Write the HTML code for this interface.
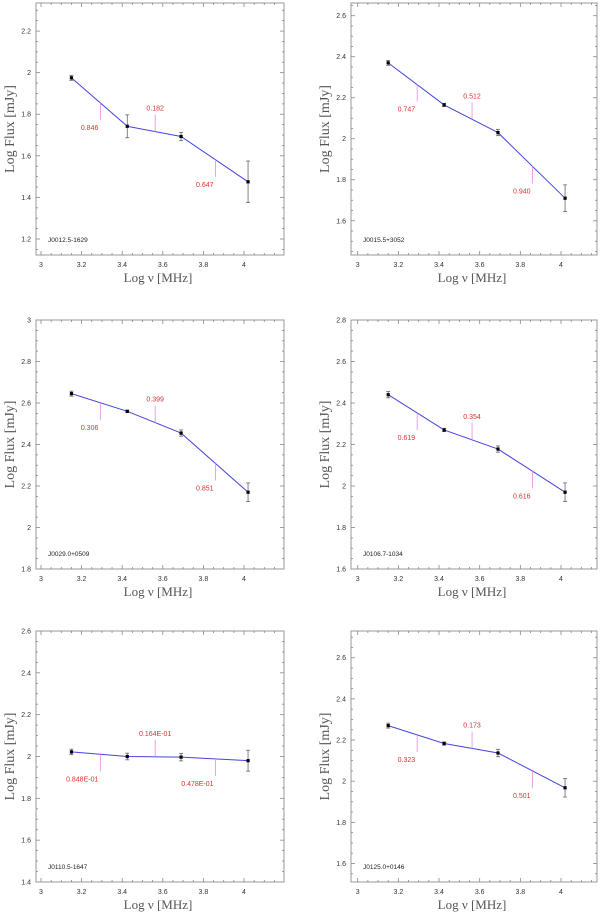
<!DOCTYPE html>
<html><head><meta charset="utf-8"><style>
body{margin:0;background:#fff;}
svg{display:block;}
text{font-family:"Liberation Sans",sans-serif;}
</style></head><body>
<svg id="chart" width="600" height="913" viewBox="0 0 600 913" xmlns="http://www.w3.org/2000/svg"></svg>
<script>
const sourceNames = ["J0012.5-1629","J0015.5+3052","J0029.0+0509","J0106.7-1034","J0110.5-1647","J0125.0+0146"];
const freqs = [3.15, 3.425, 3.69, 4.02];
const flux1 = [1.975, 1.742, 1.693, 1.475];
const flux2 = [2.37, 2.165, 2.03, 1.71];
const flux3 = [2.645, 2.56, 2.455, 2.17];
const flux4 = [2.44, 2.27, 2.178, 1.97];
const flux5 = [2.022, 2.0, 1.997, 1.98];
const flux6 = [2.27, 2.183, 2.137, 1.968];
const err1 = [0.012, 0.055, 0.02, 0.1];
const err2 = [0.012, 0.008, 0.015, 0.065];
const err3 = [0.012, 0.005, 0.015, 0.045];
const err4 = [0.015, 0.008, 0.015, 0.045];
const err5 = [0.013, 0.016, 0.018, 0.05];
const err6 = [0.012, 0.008, 0.018, 0.045];
const alpha1 = ["0.846","0.182","0.647"];
const alpha2 = ["0.747","0.512","0.940"];
const alpha3 = ["0.306","0.399","0.851"];
const alpha4 = ["0.619","0.354","0.616"];
const alpha5 = ["0.848E-01","0.164E-01","0.478E-01"];
const alpha6 = ["0.323","0.173","0.501"];
const yTop = [2.335, 2.662, 3.0, 2.8, 2.6, 2.73];
const yBottom = [1.123, 1.433, 1.8, 1.6, 1.4, 1.51];
const yTickLabels1 = ["1.2","1.4","1.6","1.8","2","2.2"];
const yTickLabels2 = ["1.6","1.8","2","2.2","2.4","2.6"];
const yTickLabels3 = ["1.8","2","2.2","2.4","2.6","2.8","3"];
const yTickLabels4 = ["1.6","1.8","2","2.2","2.4","2.6","2.8"];
const yTickLabels5 = ["1.4","1.6","1.8","2","2.2","2.4","2.6"];
const yTickLabels6 = ["1.6","1.8","2","2.2","2.4","2.6"];
const xTickLabels = ["3","3.2","3.4","3.6","3.8","4"];

const fluxes=[flux1,flux2,flux3,flux4,flux5,flux6];
const errs=[err1,err2,err3,err4,err5,err6];
const alphas=[alpha1,alpha2,alpha3,alpha4,alpha5,alpha6];
const yLabs=[yTickLabels1,yTickLabels2,yTickLabels3,yTickLabels4,yTickLabels5,yTickLabels6];
const NS="http://www.w3.org/2000/svg";
const svg=document.getElementById('chart');
function mk(tag,attrs,parent,txt){const e=document.createElementNS(NS,tag);for(const k in attrs)e.setAttribute(k,attrs[k]);if(txt!==undefined)e.textContent=txt;parent.appendChild(e);return e;}
const colX=[[36,284,41,244],[351,597,357.7,561]];
const rowY=[[3,255],[320,569],[631,882]];
for(let p=0;p<6;p++){
  const c=p%2,r=Math.floor(p/2);
  const [bl,br,x3,x4]=colX[c];const [bt,bb]=rowY[r];
  const X=v=>x3+(v-3)*(x4-x3);
  const Y=v=>bb-(v-yBottom[p])/(yTop[p]-yBottom[p])*(bb-bt);
  const g=mk('g',{},svg);
  
  
  const box=mk('rect',{x:bl,y:bt,width:br-bl,height:bb-bt,fill:'none',stroke:'#999','stroke-width':1},g);
  
  
  for(let i=0;i<=24;i++){const v=2.95+i*0.05;const px=X(v);if(px<=bl+0.5||px>=br-0.5)continue;
    const major=Math.abs(v*5-Math.round(v*5))<1e-6;const L=major?4:2;
    mk('line',{x1:px,y1:bb,x2:px,y2:bb-L,stroke:'#888','stroke-width':0.8},g);
    mk('line',{x1:px,y1:bt,x2:px,y2:bt+L,stroke:'#888','stroke-width':0.8},g);}
  xTickLabels.forEach(t=>{const e=mk('text',{x:X(+t),y:bb+12,'font-size':7,'text-anchor':'middle',fill:'#333'},g,t);
    
    });
  for(let i=0;i<=60;i++){const v=1.0+i*0.05;const py=Y(v);if(py<=bt+0.5||py>=bb-0.5)continue;
    const major=Math.abs(v*5-Math.round(v*5))<1e-6;const L=major?4:2;
    mk('line',{x1:bl,y1:py,x2:bl+L,y2:py,stroke:'#888','stroke-width':0.8},g);
    mk('line',{x1:br,y1:py,x2:br-L,y2:py,stroke:'#888','stroke-width':0.8},g);}
  yLabs[p].forEach(t=>{const e=mk('text',{x:bl-5,y:Y(+t)+2.5,'font-size':7,'text-anchor':'end',fill:'#333'},g,t);
    
    });
  const xt=mk('text',{x:(bl+br)/2-2,y:bb+27,'text-anchor':'middle',fill:'#555',style:'font-family:"Liberation Serif",serif;font-size:13px'},g,'Log \u03BD [MHz]');
  
  
  const ycx=bl-26,ycy=(bt+bb)/2;
  const yt=mk('text',{x:ycx,y:ycy+4,'text-anchor':'middle',fill:'#555',style:'font-family:"Liberation Serif",serif;font-size:14px',transform:`rotate(-90 ${ycx} ${ycy})`},g,'Log Flux [mJy]');
  
  
  const nm=mk('text',{x:bl+12,y:bb-13,'font-size':6.5,fill:'#222'},g,sourceNames[p]);
  
  
  const f=fluxes[p];
  const pl=mk('polyline',{points:freqs.map((x,i)=>X(x)+','+Y(f[i])).join(' '),fill:'none',stroke:'#4444dd','stroke-width':1},g);
  
  
  freqs.forEach((x,i)=>{const px=X(x),e=errs[p][i];
    mk('line',{x1:px,y1:Y(f[i]-e),x2:px,y2:Y(f[i]+e),stroke:'#666','stroke-width':0.8},g);
    mk('line',{x1:px-2,y1:Y(f[i]-e),x2:px+2,y2:Y(f[i]-e),stroke:'#666','stroke-width':0.8},g);
    mk('line',{x1:px-2,y1:Y(f[i]+e),x2:px+2,y2:Y(f[i]+e),stroke:'#666','stroke-width':0.8},g);
    const pt=mk('rect',{x:px-1.6,y:Y(f[i])-1.6,width:3.2,height:3.2,fill:'#000'},g);
    
    });
  for(let s=0;s<3;s++){
    const xm=(freqs[s]+freqs[s+1])/2+0.005;
    const t=(xm-freqs[s])/(freqs[s+1]-freqs[s]);
    const ym=f[s]+t*(f[s+1]-f[s]);
    const px=X(xm),py=Y(ym);
    if(s===1){
      mk('line',{x1:px,y1:py,x2:px,y2:py-17,stroke:'#e090e0','stroke-width':0.8},g);
      const e=mk('text',{x:px,y:py-21,'font-size':7,'text-anchor':'middle',fill:'#e03030'},g,alphas[p][s]);
      
      
    }else{
      mk('line',{x1:px,y1:py,x2:px,y2:py+17,stroke:'#e090e0','stroke-width':0.8},g);
      const e=mk('text',{x:px-2,y:py+27,'font-size':7,'text-anchor':'end',fill:'#e03030'},g,alphas[p][s]);
      
      
    }
  }
}
</script>
</body></html>
